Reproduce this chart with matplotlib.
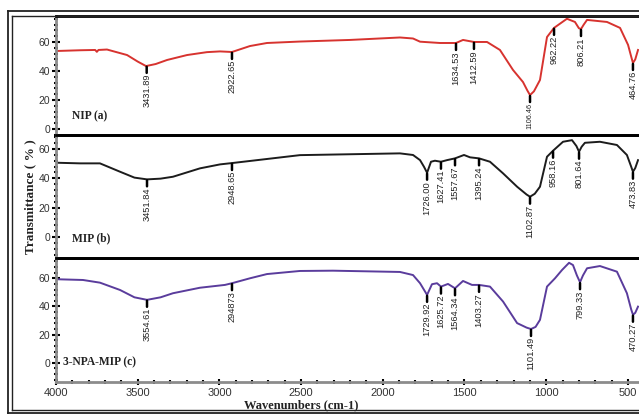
import numpy as np
import matplotlib
matplotlib.use("Agg")
import matplotlib.pyplot as plt
from matplotlib.ticker import AutoMinorLocator, MultipleLocator
from matplotlib.lines import Line2D

# ----------------------------
# Daten
# ----------------------------
nip_wn = [3994, 3850, 3760, 3750, 3740, 3688, 3565, 3500, 3449, 3390, 3320, 3198, 3076, 2996, 2923,
          2813, 2709, 2507, 2201, 1895, 1815, 1772, 1650, 1552, 1509, 1442, 1362, 1283,
          1203, 1142, 1115, 1099, 1075, 1038, 995, 952, 873, 824, 800, 787, 770, 750, 628, 548,
          499, 480, 469, 455, 438]
nip_t = [53.8, 54.3, 54.5, 53.2, 54.5, 54.8, 51.0, 46.5, 43.4, 44.8, 47.6, 51.0, 53.0, 53.5, 53.1,
         57.2, 59.3, 60.3, 61.4, 63.1, 62.4, 60.2, 59.3, 59.3, 61.4, 60.0, 60.0, 54.5,
         40.7, 32.4, 26.5, 23.4, 26.0, 33.8, 63.4, 69.7, 76.0, 73.8, 69.5, 68.9, 72.0, 75.2,
         73.8, 69.7, 58.0, 50.0, 45.5, 48.0, 54.5]

mip_wn = [3988, 3853, 3731, 3608, 3520, 3443, 3360, 3284, 3119, 2996, 2923, 2507, 1895, 1815,
          1772, 1748, 1729, 1705, 1681, 1644, 1607, 1558, 1503, 1466, 1411, 1344, 1264, 1178,
          1120, 1099, 1070, 1038, 995, 958, 897, 842, 815, 799, 783, 763, 671, 567, 506, 480,
          469, 455, 438]
mip_t = [50.6, 50.2, 50.2, 44.5, 40.5, 39.3, 39.8, 41.1, 46.8, 49.5, 50.4, 55.8, 57.0, 55.9,
         52.4, 47.9, 43.8, 51.3, 52.0, 51.3, 52.4, 53.6, 55.9, 54.3, 53.6, 51.3, 43.4, 34.3,
         29.0, 27.5, 29.5, 34.3, 54.7, 58.8, 64.9, 66.0, 62.0, 58.1, 61.5, 64.2, 64.9, 62.7,
         55.9, 48.0, 44.5, 47.0, 52.4]

npa_wn = [3988, 3835, 3731, 3608, 3520, 3443, 3360, 3284, 3119, 2966, 2923, 2813, 2709, 2507,
          2305, 1895, 1815, 1772, 1729, 1699, 1668, 1644, 1601, 1558, 1509, 1454, 1411, 1344,
          1264, 1178, 1120, 1093, 1065, 1038, 995, 946, 903, 860, 836, 812, 793, 775, 750, 671,
          567, 506, 480, 469, 455, 438]
npa_t = [59.3, 58.8, 56.9, 51.7, 46.5, 44.7, 46.5, 49.4, 53.3, 55.3, 56.5, 60.0, 63.0, 65.2,
         65.4, 64.5, 62.3, 56.5, 48.2, 55.8, 56.5, 54.1, 56.0, 52.9, 58.1, 55.3, 55.3, 54.1,
         43.5, 28.2, 25.0, 24.0, 25.5, 30.5, 54.1, 60.0, 65.9, 71.0, 69.4, 62.0, 57.2, 62.0,
         67.1, 68.7, 64.7, 49.4, 38.0, 34.1, 35.5, 39.9]

nip_peak_pos = [3445, 2923, 1552, 1442, 1099, 952, 787, 469]
nip_peak_lbl = ["3431.89", "2922.65", "1634.53", "1412.59", "1106.46", "962.22", "806.21", "464.76"]

mip_peak_pos = [3443, 2923, 1729, 1644, 1558, 1411, 1099, 958, 799, 469]
mip_peak_lbl = ["3451.84", "2948.65", "1726.00", "1627.41", "1557.67", "1395.24",
                "1102.87", "958.16", "801.64", "473.83"]

npa_peak_pos = [3443, 2923, 1729, 1644, 1558, 1411, 1093, 793, 469]
npa_peak_lbl = ["3554.61", "294873", "1729.92", "1625.72", "1564.34", "1403.27",
                "1101.49", "799.33", "470.27"]

panel_names = ["NIP (a)", "MIP (b)", "3-NPA-MIP (c)"]
colors = ["#d7332f", "#1c1c1c", "#5a3c9c"]

# ----------------------------
# Layout
# ----------------------------
W, H = 639, 415
fig = plt.figure(figsize=(W / 100, H / 100), dpi=100)
fig.patch.set_facecolor("white")


def fx(px):
    return px / W


def fy(py):
    return 1 - py / H


panels = [
    (nip_wn, nip_t, nip_peak_pos, nip_peak_lbl, 16, 135, (-4.1, 77.9)),
    (mip_wn, mip_t, mip_peak_pos, mip_peak_lbl, 135, 258, (-14.2, 69.5)),
    (npa_wn, npa_t, npa_peak_pos, npa_peak_lbl, 258, 382, (-13.6, 74.4)),
]

axes = []
for i, (wn, tr, ppos, plbl, top, bot, ylim) in enumerate(panels):
    ax = fig.add_axes([fx(56), fy(bot), fx(W - 56), (bot - top) / H])
    ax.plot(wn, tr, color=colors[i], lw=1.4, solid_joinstyle="round")
    ax.set_xlim(4000, 432)
    ax.set_ylim(*ylim)

    # Peak-Markierungen
    xs = np.array(wn[::-1], dtype=float)
    ys = np.array(tr[::-1], dtype=float)
    for p, lbl in zip(ppos, plbl):
        yv = np.interp(p, xs, ys)
        ax.annotate("", xy=(p, yv), xytext=(0, -5), textcoords="offset points",
                    arrowprops=dict(arrowstyle="-", lw=1.8, color="black",
                                    shrinkA=0, shrinkB=0.6))
        fs = 5.2 if lbl == "1106.46" else 6.7
        ax.annotate(lbl, xy=(p, yv), xytext=(0, -5.8), textcoords="offset points",
                    rotation=90, ha="center", va="top", fontsize=fs,
                    family="Liberation Sans", color="#222222")

    ax.text(0.027 if i < 2 else 0.012, 0.16, panel_names[i], transform=ax.transAxes,
            family="Liberation Serif", fontweight="bold", fontsize=8.3,
            ha="left", va="center", color="#222222")

    # Achsen-Stil
    ax.yaxis.set_minor_locator(AutoMinorLocator(5))
    ax.set_yticks([0, 20, 40, 60])
    ax.tick_params(axis="y", which="major", direction="inout", length=6, width=1.5,
                   color="black", labelsize=7.5, labelcolor="#333333", pad=1,
                   labelfontfamily="Liberation Sans")
    ax.tick_params(axis="y", which="minor", direction="inout", length=3, width=1.5,
                   color="black")
    ax.spines["left"].set_color("#8c8c8c")
    ax.spines["left"].set_linewidth(2)
    ax.spines["right"].set_visible(False)
    ax.spines["top"].set_color("black")
    ax.spines["top"].set_linewidth(2)
    ax.spines["bottom"].set_color("black")
    ax.spines["bottom"].set_linewidth(2)
    ax.patch.set_alpha(0)
    axes.append(ax)

for ax in axes[:2]:
    ax.tick_params(axis="x", which="both", bottom=False, labelbottom=False)

axb = axes[2]
axb.spines["bottom"].set_color("#8c8c8c")
axb.xaxis.set_major_locator(MultipleLocator(500))
axb.xaxis.set_minor_locator(MultipleLocator(100))
axb.tick_params(axis="x", which="major", direction="inout", length=5, width=1.5,
                color="black", labelsize=8, labelcolor="#333333", pad=2,
                labelfontfamily="Liberation Sans")
axb.tick_params(axis="x", which="minor", direction="inout", length=3, width=1.5,
                color="black")

fig.text(fx(301), fy(405), "Wavenumbers (cm-1)", family="Liberation Serif",
         fontweight="bold", fontsize=9, ha="center", va="center", color="#222222")
fig.text(fx(30), fy(197), "Transmittance ( % )", family="Liberation Serif",
         fontweight="bold", fontsize=9.5, ha="center", va="center", rotation=90,
         color="#222222")

# Rahmen (doppelt)
for px0, py0, py1, lw in [(7.5, 11.5, 413, 1.3), (12, 16, 409.5, 1.0)]:
    fig.add_artist(Line2D([fx(px0), fx(px0)], [fy(py0), fy(py1)], color="#222222", lw=lw))
    fig.add_artist(Line2D([fx(px0), 1], [fy(py0), fy(py0)], color="#222222", lw=lw))
    fig.add_artist(Line2D([fx(px0), 1], [fy(py1), fy(py1)], color="#222222", lw=lw))

fig.savefig("out.png", dpi=100)
